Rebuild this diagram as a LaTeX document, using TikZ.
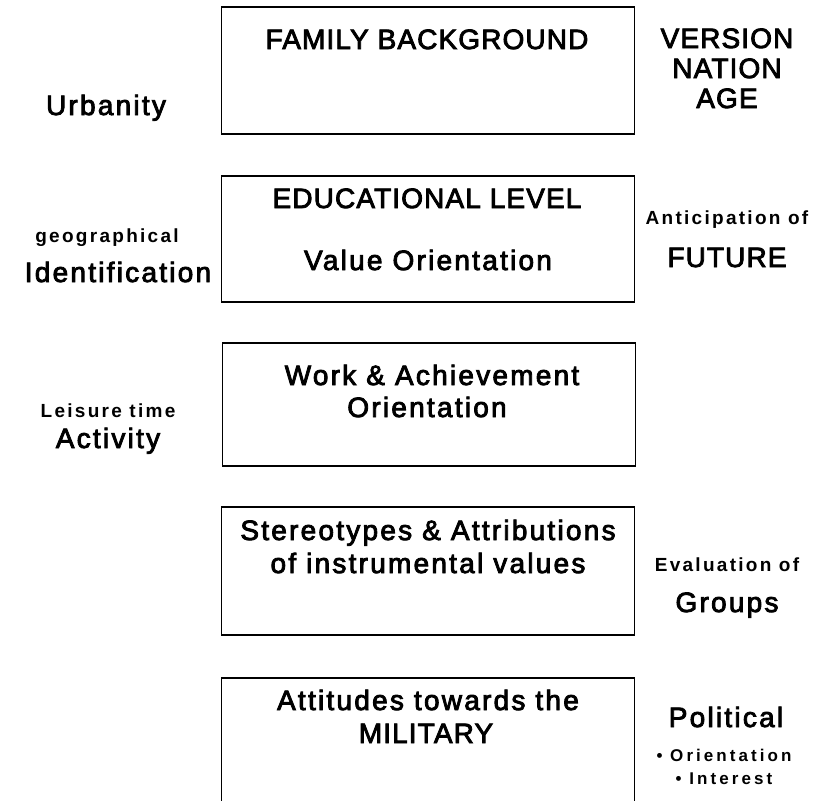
\documentclass[tikz,border=0pt]{standalone}
\usepackage{fontspec}
\setmainfont{Liberation Sans}
\newfontfamily\capsfont[LetterSpace=4,FakeBold=3]{Liberation Sans}
\newfontfamily\mixfont[LetterSpace=8,FakeBold=3]{Liberation Sans}
\newfontfamily\smallfont[LetterSpace=12]{Liberation Sans}
\newfontfamily\bulletfont[LetterSpace=18]{Liberation Sans}
\begin{document}
\begin{tikzpicture}[x=1pt,y=-1pt,
  boxnode/.style={draw, line width=1.3pt, minimum width=413pt, inner sep=0pt, outer sep=0pt},
  caps/.style={anchor=base, inner sep=0pt, font=\capsfont\fontsize{28}{30}\selectfont},
  mix/.style={anchor=base, inner sep=0pt, font=\mixfont\fontsize{28}{30}\selectfont},
  small/.style={anchor=base, inner sep=0pt, font=\smallfont\bfseries\fontsize{19}{22}\selectfont},
  bul/.style={anchor=base, inner sep=0pt, font=\bulletfont\bfseries\fontsize{17}{20}\selectfont}]
\useasboundingbox (0,0) rectangle (831,801);
% boxes
\node[boxnode, minimum height=127pt] (b1) at (428,70.5) {};
\node[boxnode, minimum height=126pt] (b2) at (428,239) {};
\node[boxnode, minimum height=123pt] (b3) at (429,404.5) {};
\node[boxnode, minimum height=128pt] (b4) at (428,571) {};
\node[minimum width=413pt, minimum height=140pt, inner sep=0pt, outer sep=0pt] (b5) at (428,748) {};
\draw[line width=1.3pt] (b5.south west) -- (b5.north west) -- (b5.north east) -- (b5.south east);
% box texts
\node[caps] (t1) at (427,49) {FAMILY BACKGROUND};
\node[caps] (t2a) at (427,208) {EDUCATIONAL LEVEL};
\node[mix] (t2b) at (428,270) {Value Orientation};
\node[mix] (t3a) at (432,385) {Work \& Achievement};
\node[mix] (t3b) at (427,417) {Orientation};
\node[mix] (t4a) at (428,540) {Stereotypes \& Attributions};
\node[mix] (t4b) at (428,573) {of instrumental values};
\node[mix] (t5a) at (428,710) {Attitudes towards the};
\node[caps] (t5b) at (426,743) {MILITARY};
% left labels
\node[mix] (l1) at (106,115) {Urbanity};
\node[small] (l2a) at (107,242) {geographical};
\node[mix] (l2b) at (118,282) {Identification};
\node[small] (l3a) at (108,417) {Leisure time};
\node[mix] (l3b) at (108,448) {Activity};
% right labels
\node[caps] (r1a) at (727,48) {VERSION};
\node[caps] (r1b) at (727,78) {NATION};
\node[caps] (r1c) at (727,108) {AGE};
\node[small] (r2a) at (727,224) {Anticipation of};
\node[caps] (r2b) at (727,267) {FUTURE};
\node[small] (r4a) at (727,571) {Evaluation of};
\node[mix] (r4b) at (727,612) {Groups};
\node[mix] (r5a) at (726,727) {Political};
\node[bul] (r5b) at (724,761) {• Orientation};
\node[bul] (r5c) at (724,784) {• Interest};
\end{tikzpicture}
\end{document}
